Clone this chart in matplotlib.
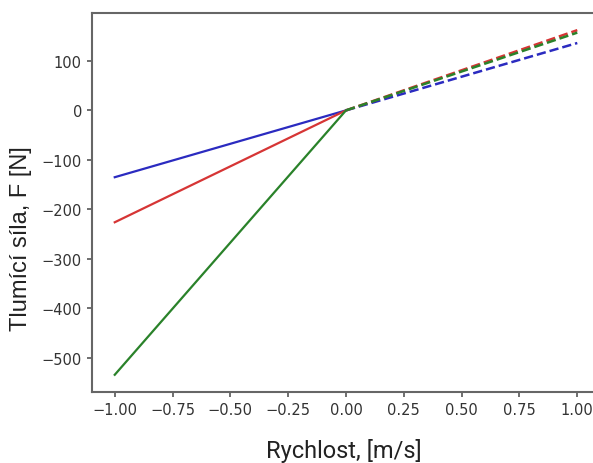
import numpy as np
import matplotlib.pyplot as plt

plt.rcParams['font.family'] = 'DejaVu Sans'

# Damping force vs. velocity: compression (v < 0) and rebound (v > 0)
v_comp = [-1.0, 0.0]
v_reb = [0.0, 1.0]

# forces at the end points [N]
F_comp_blue = [-135, 0]
F_comp_red = [-226, 0]
F_comp_green = [-534, 0]

F_reb_blue = [0, 136]
F_reb_red = [0, 162]
F_reb_green = [0, 157]

colors = ['#2b2bc0', '#d63535', '#2a822a']

fig = plt.figure(figsize=(5.93, 4.64), dpi=100)
ax = fig.add_axes([0.1545, 0.153, 0.858, 0.817])

for F, c in zip([F_comp_blue, F_comp_red, F_comp_green], colors):
    ax.plot(v_comp, F, color=c, linewidth=1.6)
for F, c in zip([F_reb_blue, F_reb_red, F_reb_green], colors):
    ax.plot(v_reb, F, color=c, linewidth=1.8, linestyle='--')

ax.set_xticks([-1.0, -0.75, -0.5, -0.25, 0.0, 0.25, 0.5, 0.75, 1.0])
ax.set_yticks([-500, -400, -300, -200, -100, 0, 100])
ax.tick_params(labelsize=10.5, colors='#555555', labelcolor='#333333', width=1.2)
for s in ax.spines.values():
    s.set_color('#666666')
    s.set_linewidth(1.5)

# axis titles
fig.text(0.579, 0.013, 'Rychlost, [m/s]', fontsize=17, family='Roboto',
         color='#222222', ha='center', va='baseline')
fig.text(0.036, 0.485, 'Tlumící síla, F [N]', fontsize=17, family='Liberation Sans',
         color='#222222', ha='center', va='center', rotation=90)

plt.savefig('out.png', dpi=100)
